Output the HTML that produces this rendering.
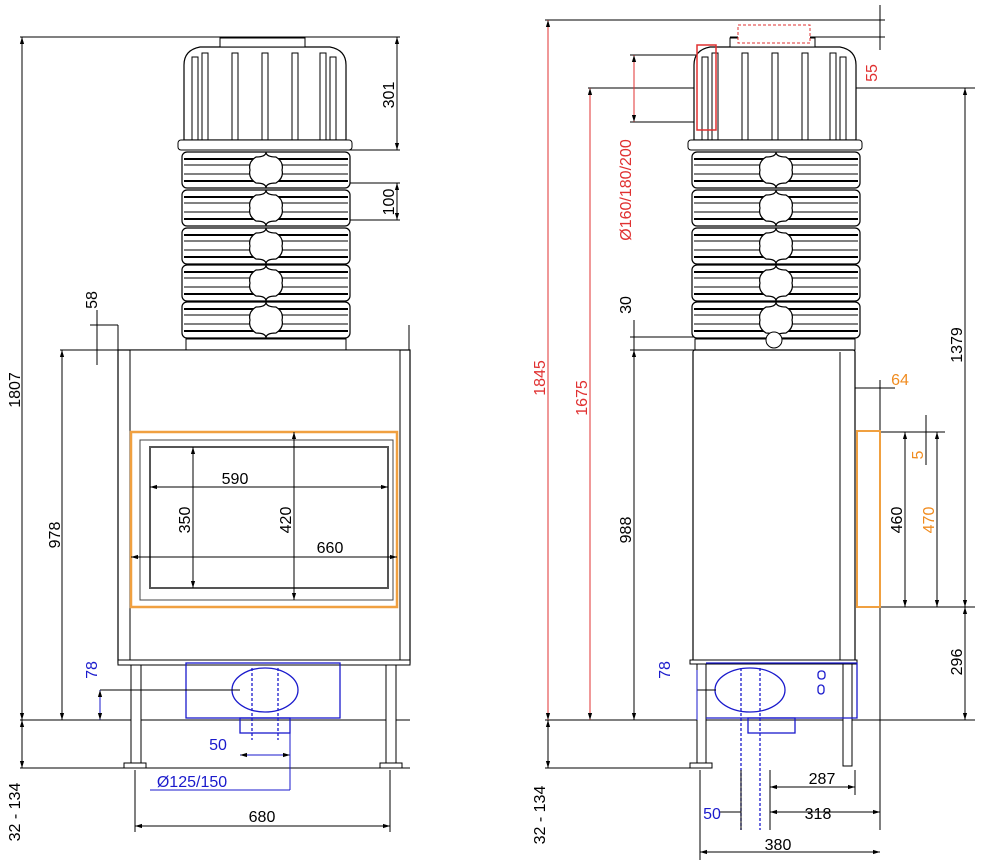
<!DOCTYPE html>
<html><head><meta charset="utf-8"><style>
body{margin:0;background:#fff}
svg{display:block}
text{font-family:"Liberation Sans",Arial,sans-serif;font-size:16px}
</style></head><body>
<svg width="982" height="860" viewBox="0 0 982 860" xmlns="http://www.w3.org/2000/svg">
<defs>
<marker id="a" viewBox="0 0 10 10" refX="10" refY="5" markerWidth="7" markerHeight="7" orient="auto-start-reverse"><path d="M0,2 L10,5 L0,8z" fill="#000"/></marker>
<g id="band">
 <rect x="0" y="0" width="168" height="36" rx="5" fill="#fff" stroke="#000" stroke-width="1.2"/>
 <line x1="2" y1="7" x2="166" y2="7" stroke="#000" stroke-width="2"/>
 <line x1="2" y1="13" x2="166" y2="13" stroke="#000"/>
 <line x1="2" y1="22" x2="166" y2="22" stroke="#000"/>
 <line x1="2" y1="29" x2="166" y2="29" stroke="#000" stroke-width="2"/>
 <path d="M74,5 Q84,5 84,0 Q84,5 94,5 Q102,10 100,18 Q102,26 94,31 Q84,31 84,36 Q84,31 74,31 Q66,26 68,18 Q66,10 74,5z" fill="#fff" stroke="#000" stroke-width="1.2"/>
</g>
<g id="hood">
 <path d="M4,105 L4,30 Q4,15 20,12 L150,12 Q166,15 166,30 L166,105z" fill="#fff" stroke="#000" stroke-width="1.2"/>
 <rect x="40" y="3" width="85" height="9" fill="#fff" stroke="#000"/>
 <g stroke="#000" fill="none">
 <rect x="12" y="22" width="6" height="84"/><rect x="22" y="18" width="6" height="88"/>
 <rect x="52" y="18" width="6" height="88"/><rect x="82" y="18" width="6" height="88"/>
 <rect x="112" y="18" width="6" height="88"/><rect x="140" y="18" width="6" height="88"/><rect x="150" y="22" width="6" height="84"/>
 </g>
 <rect x="-2" y="105" width="174" height="10" rx="3" fill="#fff" stroke="#000"/>
</g>
</defs>

<!-- LEFT VIEW -->
<g stroke="#000" fill="none" stroke-width="1">
 <line x1="20" y1="37" x2="400" y2="37"/>
 <line x1="20" y1="720" x2="410" y2="720"/>
 <line x1="20" y1="768" x2="410" y2="768"/>
 <line x1="60" y1="350" x2="130" y2="350"/>
 <line x1="90" y1="325" x2="118" y2="325"/>
 <line x1="345" y1="150" x2="400" y2="150"/>
 <line x1="345" y1="183" x2="400" y2="183"/>
 <line x1="345" y1="220" x2="400" y2="220"/>
</g>
<use href="#hood" x="180" y="35"/>
<use href="#band" x="182" y="152"/>
<use href="#band" x="182" y="190"/>
<use href="#band" x="182" y="228"/>
<use href="#band" x="182" y="265"/>
<use href="#band" x="182" y="302"/>
<g stroke="#000" fill="#fff">
 <rect x="186" y="339" width="160" height="11"/>
 <rect x="118" y="350" width="292" height="313" stroke-width="1.2"/>
 <line x1="118" y1="325" x2="118" y2="350"/><line x1="409" y1="325" x2="409" y2="350"/>
 <rect x="130" y="350" width="270" height="312"/>
 <rect x="118" y="660" width="292" height="5"/>
 <rect x="150" y="447" width="238" height="141" stroke="#555" stroke-width="2" fill="none"/>
 <rect x="140" y="440" width="253" height="160" stroke="#444" fill="none"/>
 <rect x="131" y="665" width="10" height="100"/><rect x="386" y="665" width="10" height="100"/>
 <rect x="124" y="763" width="22" height="5"/><rect x="380" y="763" width="22" height="5"/>
</g>
<rect x="131" y="432" width="266" height="175" fill="none" stroke="#f0a040" stroke-width="2.5"/>
<g stroke="#1a1acc" fill="none" stroke-width="1.3">
 <rect x="186" y="663" width="154" height="55"/>
 <ellipse cx="265" cy="690" rx="33" ry="22"/>
 <line x1="252" y1="668" x2="252" y2="740" stroke-dasharray="3 2"/>
 <line x1="278" y1="668" x2="278" y2="740" stroke-dasharray="3 2"/>
 <rect x="240" y="718" width="50" height="15"/>
</g>
<g stroke="#000" fill="none" marker-start="url(#a)" marker-end="url(#a)">
 <line x1="22" y1="37" x2="22" y2="720"/>
 <line x1="62" y1="350" x2="62" y2="720"/>
 <line x1="397" y1="37" x2="397" y2="150"/>
 <line x1="397" y1="183" x2="397" y2="220"/>
 <line x1="150" y1="487" x2="388" y2="487"/>
 <line x1="193" y1="447" x2="193" y2="588"/>
 <line x1="294" y1="432" x2="294" y2="600"/>
 <line x1="131" y1="557" x2="397" y2="557"/>
 <line x1="135" y1="826" x2="390" y2="826"/>
 <line x1="22" y1="720" x2="22" y2="768"/>
</g>
<g stroke="#000" fill="none">
 <line x1="97" y1="310" x2="97" y2="365"/>
 <line x1="135" y1="770" x2="135" y2="832"/><line x1="390" y1="770" x2="390" y2="832"/>
 <line x1="100" y1="690" x2="240" y2="690"/>
</g>
<g stroke="#1a1acc" fill="none" marker-start="url(#a)" marker-end="url(#a)">
 <line x1="100" y1="690" x2="100" y2="720"/>
 <line x1="240" y1="755" x2="290" y2="755"/>
</g>
<line x1="150" y1="790" x2="290" y2="790" stroke="#1a1acc"/>
<line x1="290" y1="733" x2="290" y2="790" stroke="#1a1acc"/>
<g fill="#000">
 <text transform="translate(20,390) rotate(-90)" text-anchor="middle">1807</text>
 <text transform="translate(60,535) rotate(-90)" text-anchor="middle">978</text>
 <text transform="translate(97,300) rotate(-90)" text-anchor="middle">58</text>
 <text transform="translate(394,95) rotate(-90)" text-anchor="middle">301</text>
 <text transform="translate(394,202) rotate(-90)" text-anchor="middle">100</text>
 <text x="235" y="484" text-anchor="middle">590</text>
 <text transform="translate(190,520) rotate(-90)" text-anchor="middle">350</text>
 <text transform="translate(291,520) rotate(-90)" text-anchor="middle">420</text>
 <text x="330" y="553" text-anchor="middle">660</text>
 <text x="262" y="822" text-anchor="middle">680</text>
 <text transform="translate(20,812) rotate(-90)" text-anchor="middle">32 - 134</text>
</g>
<g fill="#1a1acc">
 <text transform="translate(97,670) rotate(-90)" text-anchor="middle">78</text>
 <text x="218" y="750" text-anchor="middle">50</text>
 <text x="192" y="787" text-anchor="middle">Ø125/150</text>
</g>

<!-- RIGHT VIEW -->
<g stroke="#000" fill="none">
 <line x1="545" y1="20" x2="885" y2="20"/>
 <line x1="730" y1="37" x2="885" y2="37"/>
 <line x1="588" y1="88" x2="975" y2="88"/>
 <line x1="545" y1="720" x2="975" y2="720"/>
 <line x1="545" y1="768" x2="705" y2="768"/>
 <line x1="630" y1="55" x2="700" y2="55"/>
 <line x1="630" y1="122" x2="700" y2="122"/>
 <line x1="630" y1="337" x2="695" y2="337"/>
 <line x1="630" y1="350" x2="695" y2="350"/>
 <line x1="880" y1="607" x2="975" y2="607"/>
 <line x1="880" y1="432" x2="945" y2="432"/>
</g>
<use href="#hood" x="690" y="35"/>
<use href="#band" x="692" y="152"/>
<use href="#band" x="692" y="190"/>
<use href="#band" x="692" y="228"/>
<use href="#band" x="692" y="265"/>
<use href="#band" x="692" y="302"/>
<rect x="738" y="25" width="72" height="18" fill="#fff" stroke="#e03030" stroke-dasharray="3 2"/>
<rect x="697" y="45" width="19" height="85" fill="none" stroke="#e03030" stroke-width="1.5"/>
<g stroke="#000" fill="#fff">
 <rect x="695" y="339" width="160" height="11"/>
 <circle cx="774" cy="340" r="8"/>
 <rect x="693" y="350" width="162" height="312" rx="2" stroke-width="1.2"/>
 <line x1="840" y1="352" x2="840" y2="660"/>
 <rect x="690" y="660" width="167" height="4"/>
 <rect x="697" y="664" width="9" height="102"/><rect x="843" y="664" width="9" height="102"/>
 <rect x="690" y="763" width="22" height="5"/>
 <line x1="880" y1="380" x2="880" y2="830"/>
</g>
<rect x="857" y="431" width="23" height="176" fill="none" stroke="#f0a040" stroke-width="2"/>
<g stroke="#1a1acc" fill="none" stroke-width="1.3">
 <path d="M706,663 L857,663 L857,718 L706,718"/>
 <ellipse cx="750" cy="690" rx="35" ry="22"/>
 <line x1="741" y1="668" x2="741" y2="830" stroke-dasharray="3 2"/>
 <line x1="760" y1="668" x2="760" y2="830" stroke-dasharray="3 2"/>
 <rect x="748" y="718" width="47" height="15"/>
 <rect x="818" y="671" width="7" height="8" rx="3"/><rect x="818" y="685" width="6" height="9" rx="3"/>
</g>
<g stroke="#000" fill="none">
 <line x1="741" y1="770" x2="741" y2="830" stroke="#000"/>
 <line x1="770" y1="770" x2="770" y2="830"/>
 <line x1="700" y1="770" x2="700" y2="860"/>
 <line x1="855" y1="770" x2="855" y2="795"/>
</g>
<g stroke="#e03030" fill="none" marker-start="url(#a)" marker-end="url(#a)">
 <line x1="548" y1="20" x2="548" y2="720"/>
 <line x1="590" y1="88" x2="590" y2="720"/>
 <line x1="634" y1="55" x2="634" y2="122"/>
</g>
<line x1="880" y1="5" x2="880" y2="50" stroke="#000"/>
<g stroke="#000" fill="none" marker-start="url(#a)" marker-end="url(#a)">
 <line x1="965" y1="88" x2="965" y2="607"/>
 <line x1="965" y1="607" x2="965" y2="720"/>
 <line x1="634" y1="350" x2="634" y2="720"/>
 <line x1="905" y1="432" x2="905" y2="607"/>
 <line x1="937" y1="432" x2="937" y2="607"/>
 <line x1="548" y1="720" x2="548" y2="768"/>
 <line x1="770" y1="787" x2="855" y2="787"/>
 <line x1="770" y1="812" x2="880" y2="812"/>
 <line x1="700" y1="852" x2="880" y2="852"/>
</g>
<g stroke="#000" fill="none">
 <line x1="634" y1="320" x2="634" y2="360"/>
 <line x1="926" y1="415" x2="926" y2="465"/>
 <line x1="855" y1="388" x2="895" y2="388"/>
 <line x1="697" y1="690" x2="716" y2="690"/>
 <line x1="720" y1="812" x2="741" y2="812"/>
</g>
<line x1="697" y1="670" x2="697" y2="720" stroke="#1a1acc"/>
<g fill="#e03030">
 <text transform="translate(545,378) rotate(-90)" text-anchor="middle">1845</text>
 <text transform="translate(587,398) rotate(-90)" text-anchor="middle">1675</text>
 <text transform="translate(631,190) rotate(-90)" text-anchor="middle">Ø160/180/200</text>
 <text transform="translate(877,73) rotate(-90)" text-anchor="middle">55</text>
</g>
<g fill="#f08c20">
 <text x="900" y="385" text-anchor="middle">64</text>
 <text transform="translate(923,455) rotate(-90)" text-anchor="middle">5</text>
 <text transform="translate(934,520) rotate(-90)" text-anchor="middle">470</text>
</g>
<g fill="#000">
 <text transform="translate(962,345) rotate(-90)" text-anchor="middle">1379</text>
 <text transform="translate(962,662) rotate(-90)" text-anchor="middle">296</text>
 <text transform="translate(631,305) rotate(-90)" text-anchor="middle">30</text>
 <text transform="translate(631,530) rotate(-90)" text-anchor="middle">988</text>
 <text transform="translate(902,520) rotate(-90)" text-anchor="middle">460</text>
 <text transform="translate(545,815) rotate(-90)" text-anchor="middle">32 - 134</text>
 <text x="822" y="784" text-anchor="middle">287</text>
 <text x="818" y="819" text-anchor="middle">318</text>
 <text x="778" y="850" text-anchor="middle">380</text>
</g>
<g fill="#1a1acc">
 <text x="712" y="819" text-anchor="middle">50</text>
 <text transform="translate(670,670) rotate(-90)" text-anchor="middle">78</text>
</g>
</svg>
</body></html>
